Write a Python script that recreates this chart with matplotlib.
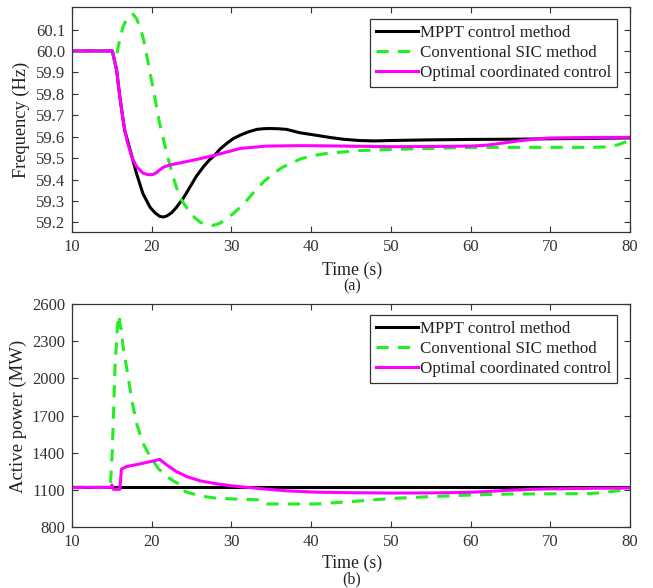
import matplotlib
matplotlib.use("Agg")
import matplotlib.pyplot as plt

# ---------------- data: frequency (Hz) ----------------
t_f_mppt = [10, 15.06, 15.6, 16.0, 16.6, 17.3, 18.1, 18.9, 19.8, 20.4, 21.0, 21.5, 21.9,
            22.5, 23.1, 24.0, 24.8, 25.6, 26.5, 27.2, 27.9, 28.6, 29.4, 30.2, 31.1, 32.1,
            33.2, 34.0, 34.8, 35.8, 36.9, 38.6, 40, 42.4, 44, 46, 48, 50, 55, 60, 65,
            70, 75, 80]
f_mppt = [60.0, 60.0, 59.91, 59.786, 59.63, 59.537, 59.427, 59.334, 59.27, 59.245, 59.228,
          59.225, 59.23, 59.245, 59.27, 59.315, 59.365, 59.415, 59.46, 59.49, 59.513,
          59.543, 59.568, 59.59, 59.607, 59.622, 59.634, 59.637, 59.638, 59.637, 59.634,
          59.618, 59.61, 59.596, 59.588, 59.582, 59.58, 59.582, 59.585, 59.587, 59.588,
          59.59, 59.592, 59.594]

t_f_sic = [10, 15.06, 15.4, 15.8, 16.4, 16.9, 17.3, 17.7, 18.1, 18.5, 19.0, 19.4, 20.2,
           21.0, 21.9, 22.7, 23.5, 24.6, 25.4, 26.1, 26.9, 27.7, 28.5, 29.4, 30.2, 31.1,
           32.1, 33.2, 34.2, 35.3, 36.3, 37.4, 38.6, 40, 42, 46, 50, 55, 60, 65, 70,
           75, 77, 78.5, 80]
f_sic = [60.0, 60.0, 59.94, 60.02, 60.114, 60.15, 60.168, 60.17, 60.15, 60.114, 60.05,
         59.973, 59.82, 59.66, 59.52, 59.41, 59.318, 59.256, 59.222, 59.20, 59.19,
         59.186, 59.195, 59.217, 59.24, 59.27, 59.31, 59.358, 59.395, 59.428, 59.455,
         59.475, 59.495, 59.51, 59.522, 59.535, 59.54, 59.545, 59.55, 59.55, 59.55,
         59.55, 59.552, 59.562, 59.583]

t_f_opt = [10, 15.06, 15.6, 16.0, 16.4, 16.9, 17.5, 18.1, 18.9, 19.4, 19.8, 20.2, 20.6,
           21.0, 21.5, 22.3, 25.2, 27.9, 31.1, 34.4, 38.6, 42, 46, 50, 55, 60, 62, 64,
           66, 68, 70, 75, 80]
f_opt = [60.0, 60.0, 59.91, 59.786, 59.68, 59.58, 59.505, 59.46, 59.43, 59.424, 59.422,
         59.424, 59.432, 59.445, 59.458, 59.468, 59.49, 59.513, 59.545, 59.556, 59.558,
         59.557, 59.555, 59.553, 59.554, 59.556, 59.56, 59.57, 59.58, 59.588, 59.594,
         59.596, 59.597]

# ---------------- data: active power (MW) ----------------
t_p_mppt = [10, 80]
p_mppt = [1120, 1120]

t_p_sic = [10, 14.8, 15.06, 15.4, 15.7, 15.9, 16.1, 16.2, 16.4, 16.9, 17.5, 18.1, 18.9,
           19.8, 20.8, 21.9, 23.1, 23.97, 24.2, 26.1, 28.2, 31.1, 33.6, 34.0, 34.4, 40.7,
           45, 50, 55, 60, 65, 70, 75, 77, 80]
p_sic = [1120, 1120, 1422, 2094, 2417, 2511, 2403, 2400, 2256, 2067, 1825, 1637, 1476,
         1368, 1274, 1206, 1158, 1131, 1085, 1050, 1032, 1024, 1019, 991, 986, 986,
         1005, 1030, 1045, 1058, 1066, 1068, 1070, 1080, 1106]

t_p_opt = [10, 14.9, 15.0, 15.2, 16.0, 16.2, 16.8, 18.5, 20.2, 21.0, 21.9, 23.1, 24.4,
           26.1, 28.2, 30.2, 33.6, 36.9, 40.7, 45, 50, 55, 60, 63, 65, 68, 70, 75, 80]
p_opt = [1120, 1120, 1139, 1104, 1104, 1266, 1287, 1309, 1333, 1346, 1300, 1247, 1207,
         1172, 1148, 1131, 1110, 1092, 1081, 1077, 1074, 1075, 1080, 1090, 1097, 1105,
         1108, 1112, 1115]

labels = ["MPPT control method", "Conventional SIC method", "Optimal coordinated control"]
freq_ticks = [59.2, 59.3, 59.4, 59.5, 59.6, 59.7, 59.8, 59.9, 60.0, 60.1]
power_ticks = [800, 1100, 1400, 1700, 2000, 2300, 2600]
time_ticks = [10, 20, 30, 40, 50, 60, 70, 80]

# ---------------- style ----------------
plt.rcParams['font.family'] = ['Liberation Serif', 'DejaVu Serif']
plt.rcParams['font.size'] = 12

W, H = 653, 588
fig = plt.figure(figsize=(W / 100, H / 100), dpi=100)

def px_axes(l, t, r, b):
    return fig.add_axes([l / W, 1 - b / H, (r - l) / W, (b - t) / H])

ax1 = px_axes(72, 7, 630, 232)
ax2 = px_axes(72, 304, 630, 527)

c_black = "#000000"
c_green = "#22ee22"
c_mag = "#ff00ff"
lw = 2.2

def style(ax):
    ax.tick_params(direction='in', top=True, right=True, length=4, width=0.8,
                   colors='#333333', labelcolor='#333333', labelsize=12, pad=5)
    for s in ax.spines.values():
        s.set_color('#333333')
        s.set_linewidth(0.9)
    ax.set_xlim(10, 80)
    ax.set_xticks(time_ticks)

# top: frequency
ax1.plot(t_f_mppt, f_mppt, color=c_black, lw=lw, label=labels[0])
ax1.plot(t_f_sic, f_sic, color=c_green, lw=lw, ls=(0, (4, 3)), label=labels[1])
ax1.plot(t_f_opt, f_opt, color=c_mag, lw=lw, label=labels[2])
style(ax1)
ax1.set_ylim(59.155, 60.205)
ax1.set_yticks(freq_ticks)
ax1.set_yticklabels([f"{v:.1f}" for v in freq_ticks])

# bottom: power
ax2.plot(t_p_mppt, p_mppt, color=c_black, lw=lw, label=labels[0])
ax2.plot(t_p_sic, p_sic, color=c_green, lw=lw, ls=(0, (4, 3)), label=labels[1])
ax2.plot(t_p_opt, p_opt, color=c_mag, lw=lw, label=labels[2])
style(ax2)
ax2.set_ylim(800, 2600)
ax2.set_yticks(power_ticks)

for ax, dy in ((ax1, 12), (ax2, 11)):
    leg = ax.legend(loc='upper right', bbox_to_anchor=(1 - 13 / 558, 1 - dy / 224),
                    borderaxespad=0, fancybox=False, framealpha=1, edgecolor='#333333',
                    handlelength=2.5, handletextpad=0.1, labelspacing=0.24,
                    borderpad=0.35, fontsize=12.2)
    leg.get_frame().set_linewidth(0.9)
    for txt in leg.get_texts():
        txt.set_color('#222222')

# axis labels
fig.text(352 / W, 1 - 270 / H, "Time (s)", ha='center', va='center', fontsize=12.8,
         color='#222222')
fig.text(352 / W, 1 - 286 / H, "(a)", ha='center', va='center', fontsize=11.5,
         color='#222222')
fig.text(352 / W, 1 - 563 / H, "Time (s)", ha='center', va='center', fontsize=12.8,
         color='#222222')
fig.text(352 / W, 1 - 579 / H, "(b)", ha='center', va='center', fontsize=11.5,
         color='#222222')
fig.text(21 / W, 1 - 120 / H, "Frequency (Hz)", ha='center', va='center',
         rotation=90, fontsize=13.2, color='#222222')
fig.text(18 / W, 1 - 416 / H, "Active power (MW)", ha='center', va='center',
         rotation=90, fontsize=13.5, color='#222222')

fig.savefig("out.png", dpi=100)
